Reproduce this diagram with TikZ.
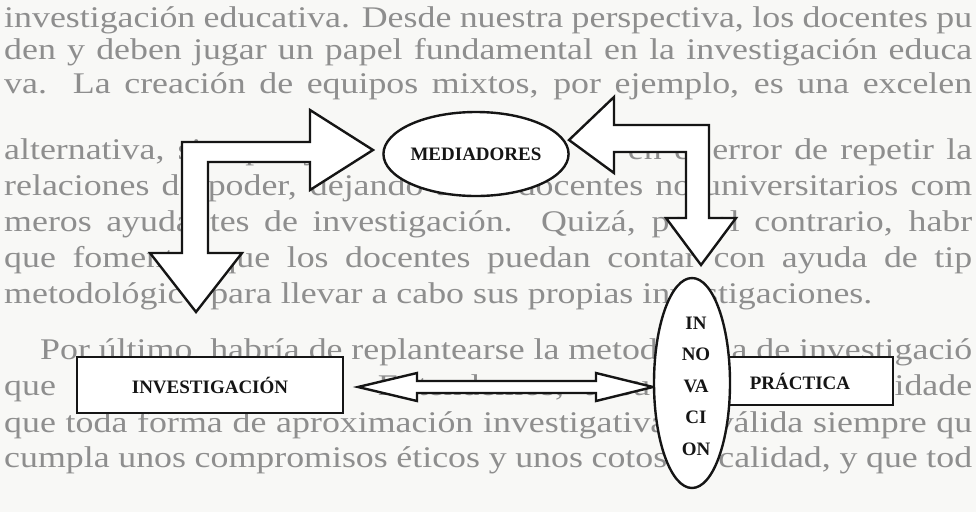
\documentclass[tikz,border=0pt]{standalone}
\usepackage{fontspec}
\setmainfont{Liberation Serif}
\newfontfamily\bgfont[FakeStretch=1.195]{Liberation Serif}
\usetikzlibrary{shapes.geometric}
\definecolor{paper}{HTML}{F8F8F6}
\definecolor{ink}{HTML}{151515}
\definecolor{bleed}{HTML}{8E8E8E}
\newcommand\jline[2]{\makebox[#1pt][s]{#2}}
\begin{document}
\begin{tikzpicture}[x=1pt,y=-1pt,
  bgtext/.style={anchor=base west, inner sep=0pt, text=bleed, font=\bgfont\fontsize{30}{36}\selectfont},
  blockarrow/.style={draw=ink, line width=2.4pt, fill=white, line join=miter},
  lbl/.style={font=\fontsize{19}{21}\selectfont\bfseries, text=ink},
  boxnode/.style={draw=ink, line width=2pt, fill=white, rectangle, inner sep=0pt},
  ovalnode/.style={draw=ink, line width=2.4pt, fill=white, ellipse, inner sep=0pt}
]
\fill[paper] (0,0) rectangle (976,512);
\useasboundingbox (0,0) rectangle (976,512);
\clip (0,0) rectangle (976,512);

% page text showing behind the diagram (words hidden by the shapes are left out)
\node[bgtext] (t1) at (4,27) {\jline{968}{investigación educativa. Desde nuestra perspectiva, los docentes pu}};
\node[bgtext] (t2) at (4,59) {\jline{968}{den y deben jugar un papel fundamental en la investigación educa}};
\node[bgtext] (t3) at (4,93) {\jline{968}{va. La creación de equipos mixtos, por ejemplo, es una excelen}};
\node[bgtext] (t4) at (4,159) {\jline{968}{alternativa, siempre y \phantom{cuando} \phantom{no} \phantom{se} \phantom{caiga} en el error de repetir la}};
\node[bgtext] (t5) at (4,195) {\jline{968}{relaciones de poder, dejando a los docentes no-universitarios com}};
\node[bgtext] (t6) at (4,231) {\jline{968}{meros ayudantes de investigación. Quizá, por el contrario, habr}};
\node[bgtext] (t7) at (4,267) {\jline{968}{que fomentar que los docentes puedan contar con ayuda de tip}};
\node[bgtext] (t8) at (4,303) {metodológico para llevar a cabo sus propias investigaciones.};
\node[bgtext] (t9) at (40,359) {\jline{932}{Por último, habría de replantearse la metodo\phantom{logí}a de investigació}};
\node[bgtext] (t10) at (4,395) {\jline{968}{que \phantom{estamos} \phantom{utilizando.} Entendemos, a su \phantom{revés,} \phantom{de} \phantom{debi}lidade}};
\node[bgtext] (t11) at (4,432) {\jline{968}{que toda forma de aproximación investigativa \phantom{es} válida siempre qu}};
\node[bgtext] (t12) at (4,467) {\jline{968}{cumpla unos compromisos éticos y unos cotos \phantom{de} calidad, y que tod}};

% block arrows
\draw[blockarrow] (182,253) -- (182,142) -- (310,142) -- (310,110) -- (373,150)
  -- (310,190) -- (310,162) -- (208,162) -- (208,253) -- (242,253) -- (196,312)
  -- (150,253) -- cycle;
\draw[blockarrow] (709,218) -- (709,125) -- (614,125) -- (614,97) -- (569,140)
  -- (614,173) -- (614,152) -- (686,152) -- (686,218) -- (666,218) -- (701,265)
  -- (736,218) -- cycle;
\draw[blockarrow] (358,387) -- (417,373) -- (417,381) -- (596,381) -- (596,373)
  -- (653,387) -- (596,401) -- (596,393) -- (417,393) -- (417,401) -- cycle;

% boxes
\node[boxnode, minimum width=266pt, minimum height=56pt, lbl] (inv) at (210,385) {INVESTIGACIÓN};
\node[boxnode, minimum width=193pt, minimum height=48pt] (pra) at (796.5,381) {};
\node[lbl] (pralbl) at (800,381) {PRÁCTICA};

% ellipses
\node[ovalnode, minimum width=162pt, minimum height=84pt, lbl] (med) at (476,154) {MEDIADORES};
\node[ovalnode, minimum width=76pt, minimum height=210pt] (inn) at (692,383) {};
\node[lbl, align=center, font=\fontsize{19}{31.5}\selectfont\bfseries] (innlbl) at (696,386) {IN\\NO\\VA\\CI\\ON};
\end{tikzpicture}
\end{document}
